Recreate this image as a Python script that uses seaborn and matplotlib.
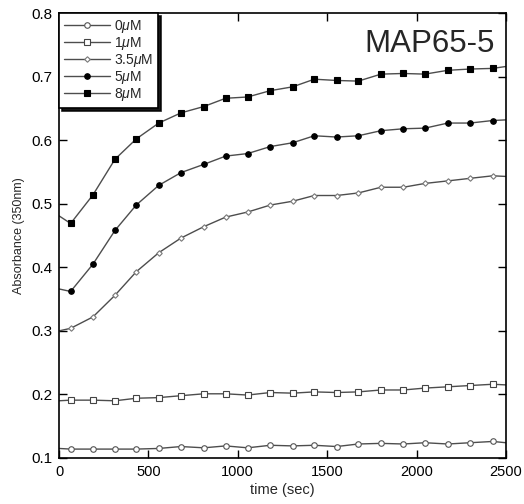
import numpy as np
import pandas as pd
import seaborn as sns
import matplotlib.pyplot as plt
from matplotlib.lines import Line2D

# marker times (sec)
t_marks = [65, 190, 313, 432, 558, 682, 810, 932, 1055, 1182,
           1307, 1428, 1553, 1674, 1801, 1926, 2047, 2175, 2299, 2426]
t_start = 0
t_end = 2500

labels = ['0$\\mu$M', '1$\\mu$M', '3.5$\\mu$M', '5$\\mu$M', '8$\\mu$M']

abs_0 = [0.114, 0.114, 0.114, 0.114, 0.115, 0.118, 0.116, 0.119, 0.116, 0.120,
         0.119, 0.120, 0.118, 0.122, 0.123, 0.122, 0.124, 0.122, 0.124, 0.126]
abs_1 = [0.191, 0.191, 0.190, 0.194, 0.195, 0.198, 0.201, 0.201, 0.199, 0.203,
         0.202, 0.204, 0.203, 0.204, 0.207, 0.207, 0.210, 0.212, 0.214, 0.216]
abs_35 = [0.304, 0.322, 0.356, 0.393, 0.423, 0.446, 0.464, 0.479, 0.487, 0.498,
          0.504, 0.513, 0.513, 0.517, 0.526, 0.526, 0.532, 0.536, 0.540, 0.544]
abs_5 = [0.362, 0.405, 0.458, 0.498, 0.529, 0.549, 0.562, 0.575, 0.579, 0.590,
         0.596, 0.607, 0.605, 0.607, 0.615, 0.618, 0.619, 0.627, 0.627, 0.631]
abs_8 = [0.469, 0.514, 0.570, 0.602, 0.627, 0.643, 0.653, 0.666, 0.668, 0.678,
         0.684, 0.696, 0.694, 0.693, 0.704, 0.705, 0.704, 0.710, 0.712, 0.713]

# values at t=0 and at the right edge
starts = [0.115, 0.190, 0.300, 0.366, 0.481]
ends = [0.124, 0.215, 0.543, 0.632, 0.716]

series = [abs_0, abs_1, abs_35, abs_5, abs_8]

# marker styles: (marker, face, size)
styles = [('o', 'white', 4.0), ('s', 'white', 3.8), ('D', 'white', 2.8),
          ('o', 'black', 4.0), ('s', 'black', 4.2)]
edge_cols = ['#555555', '#444444', '#777777', 'black', 'black']
line_col = '#4d4d4d'

sns.set_style('ticks')
plt.rcParams['font.family'] = ['Liberation Sans', 'DejaVu Sans']
plt.rcParams['mathtext.fontset'] = 'custom'
plt.rcParams['mathtext.it'] = 'Liberation Sans:italic'
plt.rcParams['mathtext.rm'] = 'Liberation Sans'

fig = plt.figure(figsize=(5.24, 5.04), dpi=100)
ax = fig.add_axes([0.1126, 0.0913, 0.853, 0.8827])

rows = []
for lab, vals, s0, s1 in zip(labels, series, starts, ends):
    ts = [t_start] + t_marks + [t_end]
    vs = [s0] + vals + [s1]
    for t, v in zip(ts, vs):
        rows.append({'time': t, 'abs': v, 'conc': lab})
df = pd.DataFrame(rows)

for lab in labels:
    sub = df[df.conc == lab]
    sns.lineplot(data=sub, x='time', y='abs', ax=ax, color=line_col,
                 linewidth=1.0, legend=False, sort=True)

handles = []
for lab, vals, (mk, fc, ms), ec in zip(labels, series, styles, edge_cols):
    ax.plot(t_marks, vals, linestyle='none', marker=mk, markersize=ms,
            markerfacecolor=fc, markeredgecolor=ec, markeredgewidth=0.8, zorder=3)
    handles.append(Line2D([0], [0], color=line_col, linewidth=1.0, marker=mk,
                          markersize=ms, markerfacecolor=fc, markeredgecolor=ec,
                          markeredgewidth=0.8, label=lab))

ax.set_xlim(0, 2500)
ax.set_ylim(0.1, 0.8)
ax.set_xticks([0, 500, 1000, 1500, 2000, 2500])
ax.set_yticks([0.1, 0.2, 0.3, 0.4, 0.5, 0.6, 0.7, 0.8])
ax.set_yticklabels(['0.1', '0.2', '0.3', '0.4', '0.5', '0.6', '0.7', '0.8'])
ax.tick_params(direction='in', length=6, width=1, top=True, right=True,
               colors='black', pad=5)
ax.tick_params(axis='y', labelsize=11)
ax.tick_params(axis='x', labelsize=10.5)
for sp in ax.spines.values():
    sp.set_linewidth(1.2)
    sp.set_color('black')

ax.set_xlabel('time (sec)', fontsize=10.5, labelpad=3)
ax.set_ylabel('Absorbance (350nm)', fontsize=9, labelpad=4)

ax.text(0.975, 0.965, 'MAP65-5', transform=ax.transAxes, ha='right', va='top',
        fontsize=22.5)

leg = ax.legend(handles=handles, loc='upper left', bbox_to_anchor=(0.0, 1.0),
                frameon=True, fancybox=False,
                shadow={'color': 'black', 'alpha': 0.9}, fontsize=10,
                handlelength=3.3, handletextpad=0.3, labelspacing=0.0,
                borderpad=0.35, borderaxespad=0.0)
leg.get_frame().set_edgecolor('black')
leg.get_frame().set_linewidth(1.2)

plt.savefig('out.png', dpi=100)
